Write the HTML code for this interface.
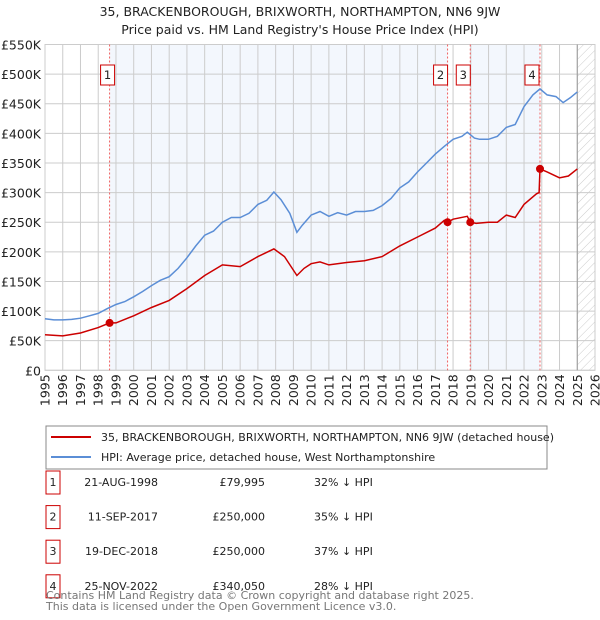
<!DOCTYPE html>
<html><head><meta charset="utf-8"><style>
body{margin:0;background:#fff;font-family:"DejaVu Sans","Liberation Sans",sans-serif;}
#wrap{position:relative;width:600px;height:620px;overflow:hidden}
svg{position:absolute;left:0;top:0;font-family:"DejaVu Sans","Liberation Sans",sans-serif}
</style></head><body><div id="wrap">
<svg id="chart" width="600" height="620"></svg>
</div>
<script>
const hpiYears=[1995,1995.5,1996,1996.5,1997,1997.5,1998,1998.5,1999,1999.5,2000,2000.5,2001,2001.5,2002,2002.5,2003,2003.5,2004,2004.5,2005,2005.5,2006,2006.5,2007,2007.5,2007.9,2008.3,2008.8,2009.2,2009.5,2010,2010.5,2011,2011.5,2012,2012.5,2013,2013.5,2014,2014.5,2015,2015.5,2016,2016.5,2017,2017.5,2018,2018.5,2018.8,2019.2,2019.5,2020,2020.5,2021,2021.5,2022,2022.5,2022.9,2023.3,2023.8,2024.2,2024.6,2025.0];
const hpiValues=[87,85,85,86,88,92,96,104,111,116,124,133,143,152,158,172,190,210,228,235,250,258,258,265,280,287,301,288,265,233,245,262,268,260,266,262,268,268,270,278,290,308,318,335,350,365,378,390,395,402,392,390,390,395,410,415,445,465,475,465,462,452,460,470];
const propYears=[1995,1996,1997,1998,1998.64,1999,2000,2001,2002,2003,2004,2005,2006,2007,2007.9,2008.5,2009.2,2009.6,2010,2010.5,2011,2012,2013,2014,2015,2016,2017,2017.5,2017.69,2018,2018.8,2018.97,2019.3,2020,2020.5,2021,2021.5,2022,2022.7,2022.85,2022.9,2023.3,2024,2024.5,2025];
const propValues=[60,58,63,72,80,80,92,106,118,138,160,178,175,192,205,192,160,172,180,183,178,182,185,192,210,225,240,253,250,255,260,250,248,250,250,262,258,280,298,300,340,335,325,328,340];
const saleYears=[1998.64,2017.69,2018.97,2022.9];
const saleValues=[79.995,250,250,340.05];
const saleLabels=["1","2","3","4"];
const saleDates=["21-AUG-1998","11-SEP-2017","19-DEC-2018","25-NOV-2022"];
const salePrices=["£79,995","£250,000","£250,000","£340,050"];
const salePct=["32% ↓ HPI","35% ↓ HPI","37% ↓ HPI","28% ↓ HPI"];
const yTicks=[0,50,100,150,200,250,300,350,400,450,500,550];
const yTickLabels=["£0","£50K","£100K","£150K","£200K","£250K","£300K","£350K","£400K","£450K","£500K","£550K"];
const xTicks=[1995,1996,1997,1998,1999,2000,2001,2002,2003,2004,2005,2006,2007,2008,2009,2010,2011,2012,2013,2014,2015,2016,2017,2018,2019,2020,2021,2022,2023,2024,2025,2026];

const L=45,R=595,T=44.5,B=370.3;
const xs=y=>L+(y-1995)/31*(R-L);
const ys=v=>B-v/550*(B-T);
const NS="http://www.w3.org/2000/svg";
const svg=document.getElementById('chart');
function mk(tag,attrs,parent){const e=document.createElementNS(NS,tag);for(const k in attrs)e.setAttribute(k,attrs[k]);(parent||svg).appendChild(e);return e;}

const defs=mk('defs',{});
const pat=mk('pattern',{id:'hatch',width:6,height:6,patternUnits:'userSpaceOnUse',patternTransform:'rotate(45)'},defs);
mk('line',{x1:0,y1:0,x2:0,y2:6,stroke:'#ccc','stroke-width':1},pat);

let t=mk('text',{x:300,y:16,'text-anchor':'middle','font-size':12.5,fill:'#222'});t.textContent="35, BRACKENBOROUGH, BRIXWORTH, NORTHAMPTON, NN6 9JW";

t=mk('text',{x:300,y:34,'text-anchor':'middle','font-size':12.5,fill:'#222'});t.textContent="Price paid vs. HM Land Registry's House Price Index (HPI)";


let band=mk('rect',{x:xs(saleYears[0]),y:T,width:xs(saleYears[1])-xs(saleYears[0]),height:B-T,fill:'#eef3fc',opacity:0.7});

band=mk('rect',{x:xs(saleYears[2]),y:T,width:xs(saleYears[3])-xs(saleYears[2]),height:B-T,fill:'#eef3fc',opacity:0.7});

const hx=xs(2025.0);
band=mk('rect',{x:hx,y:T,width:R-hx,height:B-T,fill:'url(#hatch)'});


yTicks.forEach((v,i)=>{
  const g=mk('line',{x1:L,x2:R,y1:ys(v),y2:ys(v),stroke:'#ccc','stroke-width':1});
  
  const tx=mk('text',{x:L-4,y:ys(v)+5,'text-anchor':'end','font-size':12.5,fill:'#222'});tx.textContent=yTickLabels[i];
  
});
xTicks.forEach(y=>{
  const g=mk('line',{x1:xs(y),x2:xs(y),y1:T,y2:B,stroke:'#ccc','stroke-width':1});
  
  const tx=mk('text',{x:0,y:0,'text-anchor':'end','font-size':12.5,fill:'#222',transform:`translate(${xs(y)+4.5},${B+4}) rotate(-90)`});tx.textContent=y;
  
});
let fr=mk('rect',{x:L,y:T,width:R-L,height:B-T,fill:'none',stroke:'#ccc'});

let nl=mk('line',{x1:hx,x2:hx,y1:T,y2:B,stroke:'#999','stroke-width':1});


saleYears.forEach((y,i)=>{
  const l=mk('line',{x1:xs(y),x2:xs(y),y1:T,y2:B,stroke:'#f06060','stroke-width':1,'stroke-dasharray':'2,2'});
  
});

function pathOf(xa,va){return xa.map((x,i)=>(i?'L':'M')+xs(x).toFixed(1)+','+ys(va[i]).toFixed(1)).join(' ');}
let p=mk('path',{d:pathOf(hpiYears,hpiValues),fill:'none',stroke:'#5b8ed6','stroke-width':1.5});

p=mk('path',{d:pathOf(propYears,propValues),fill:'none',stroke:'#cc0000','stroke-width':1.5});


saleYears.forEach((y,i)=>{
  const c=mk('circle',{cx:xs(y),cy:ys(saleValues[i]),r:4,fill:'#cc0000'});
  
  const g=mk('g',{});
  
  const cx=i==0?xs(y)-2:(i==3?xs(y)-8:xs(y)-7);
  mk('rect',{x:cx-7,y:65,width:14,height:20,fill:'#fff',stroke:'#cc0000'},g);
  const tx=mk('text',{x:cx,y:79,'text-anchor':'middle','font-size':11.5,fill:'#222'},g);tx.textContent=saleLabels[i];
});

const lg=mk('g',{});
mk('rect',{x:46,y:426,width:501,height:43,fill:'#fff',stroke:'#888'},lg);
let le=mk('g',{},lg);
mk('line',{x1:51,x2:91,y1:437,y2:437,stroke:'#cc0000','stroke-width':2},le);
t=mk('text',{x:101,y:441,'font-size':11,fill:'#222'},le);t.textContent="35, BRACKENBOROUGH, BRIXWORTH, NORTHAMPTON, NN6 9JW (detached house)";
le=mk('g',{},lg);
mk('line',{x1:51,x2:91,y1:457,y2:457,stroke:'#5b8ed6','stroke-width':2},le);
t=mk('text',{x:101,y:461,'font-size':11,fill:'#222'},le);t.textContent="HPI: Average price, detached house, West Northamptonshire";

saleLabels.forEach((s,i)=>{
  const cy=482+i*34.6;
  const g=mk('g',{});
  mk('rect',{x:46,y:cy-11,width:14,height:23,fill:'#fff',stroke:'#cc0000'},g);
  let a=mk('text',{x:53,y:cy+4,'text-anchor':'middle','font-size':11,fill:'#222'},g);a.textContent=s;
  a=mk('text',{x:158,y:cy+4,'text-anchor':'end','font-size':11,fill:'#222'},g);a.textContent=saleDates[i];
  a=mk('text',{x:265,y:cy+4,'text-anchor':'end','font-size':11,fill:'#222'},g);a.textContent=salePrices[i];
  a=mk('text',{x:314,y:cy+4,'font-size':11,fill:'#222'},g);a.textContent=salePct[i];
});
t=mk('text',{x:46,y:599,'font-size':11,fill:'#777'});t.textContent="Contains HM Land Registry data © Crown copyright and database right 2025.";

t=mk('text',{x:46,y:610,'font-size':11,fill:'#777'});t.textContent="This data is licensed under the Open Government Licence v3.0.";

</script></body></html>
